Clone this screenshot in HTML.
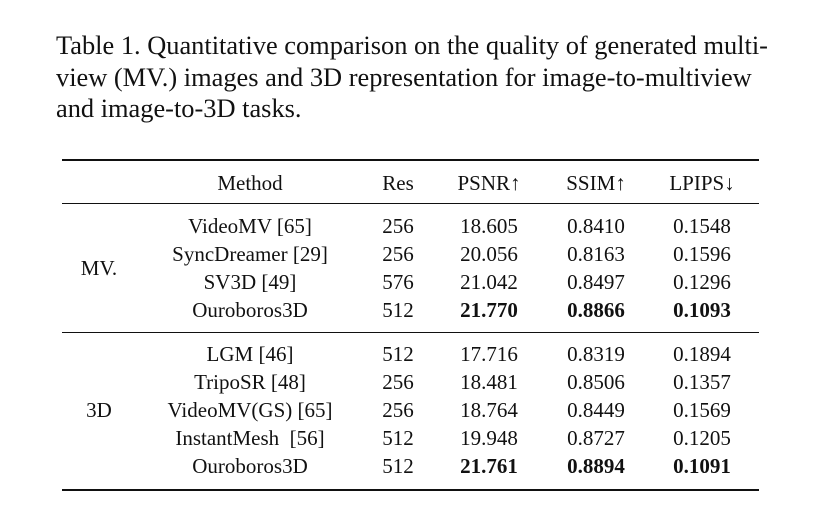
<!DOCTYPE html>
<html><head><meta charset="utf-8"><style>
body{margin:0;background:#fff;}
#wrap{position:relative;width:823px;height:520px;background:#fff;font-family:"Liberation Serif",serif;color:#111;overflow:hidden;}
.cap{position:absolute;left:56px;font-size:26.4px;white-space:nowrap;line-height:31px;}
.c{position:absolute;font-size:21px;white-space:nowrap;transform:translateX(-50%);line-height:24px;}
.b{font-weight:bold;}
.rule{position:absolute;left:62px;width:697px;background:#111;}
</style></head><body>
<div id="wrap">
<div class="cap" style="top:30px">Table 1. Quantitative comparison on the quality of generated multi-</div>
<div class="cap" style="top:62px">view (MV.) images and 3D representation for image-to-multiview</div>
<div class="cap" style="top:93px">and image-to-3D tasks.</div>
<div class="rule" style="top:159px;height:2px"></div>
<div class="rule" style="top:203px;height:1px"></div>
<div class="rule" style="top:332px;height:1px"></div>
<div class="rule" style="top:489px;height:2px"></div>
</div>
<script>
const cols=[250,398,489,596,702];
const header=["Method","Res","PSNR↑","SSIM↑","LPIPS↓"];
const rows=[
["VideoMV [65]","256","18.605","0.8410","0.1548"],
["SyncDreamer [29]","256","20.056","0.8163","0.1596"],
["SV3D [49]","576","21.042","0.8497","0.1296"],
["Ouroboros3D","512","*21.770","*0.8866","*0.1093"],
["LGM [46]","512","17.716","0.8319","0.1894"],
["TripoSR [48]","256","18.481","0.8506","0.1357"],
["VideoMV(GS) [65]","256","18.764","0.8449","0.1569"],
["InstantMesh  [56]","512","19.948","0.8727","0.1205"],
["Ouroboros3D","512","*21.761","*0.8894","*0.1091"]];
const rowY=[226,254,282,310,354,382,410,438,466];
const wrap=document.getElementById('wrap');
function cell(txt,x,y,name){
  const d=document.createElement('div');
  d.className='c';
  if(txt[0]==='*'){txt=txt.slice(1);d.className+=' b';}
  d.textContent=txt;d.style.whiteSpace='pre';
  d.style.left=x+'px';d.style.top=(y-12)+'px';
  
  
  wrap.appendChild(d);
}
header.forEach((h,i)=>cell(h,cols[i],183,'header-'+h.toLowerCase().replace(/[^a-z]/g,'')));
rows.forEach((r,ri)=>r.forEach((v,ci)=>cell(v,cols[ci],rowY[ri],'cell-r'+ri+'-c'+ci)));
cell("MV.",99,268,'group-mv');
cell("3D",99,410,'group-3d');
</script>
</body></html>
